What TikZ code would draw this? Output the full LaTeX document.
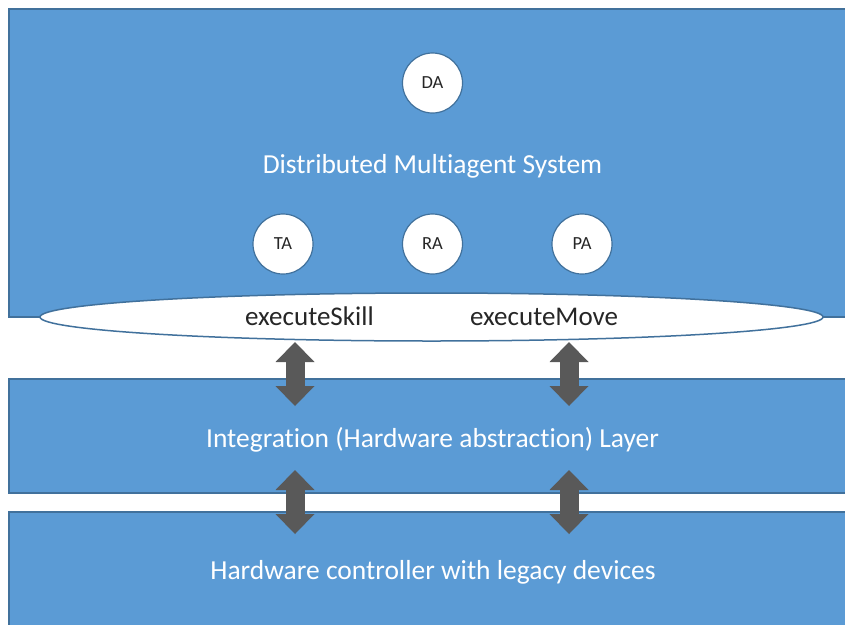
\documentclass[tikz,border=0pt]{standalone}
\usepackage{fontspec}
\setmainfont{Carlito}[Ligatures={NoCommon}]
\usetikzlibrary{arrows.meta}
\definecolor{layerblue}{HTML}{5B9BD5}
\definecolor{layeredge}{HTML}{41719C}
\definecolor{arrowgray}{HTML}{595959}
\definecolor{labeldark}{HTML}{262626}
\tikzset{
  layer/.style={fill=layerblue, draw=layeredge, line width=1.5pt},
  agent/.style={circle, fill=white, draw=layeredge, line width=1.2pt,
    minimum size=60pt, inner sep=0pt, text=labeldark,
    font=\fontsize{18.5pt}{22pt}\selectfont},
  layertext/.style={text=white, anchor=base, inner sep=0pt,
    font=\fontsize{27.5pt}{32pt}\selectfont},
  calltext/.style={text=labeldark, anchor=base west, inner sep=0pt,
    font=\fontsize{27pt}{32pt}\selectfont},
  link/.style={draw=arrowgray, line width=19pt,
    {Triangle[width=39pt,length=20pt,line width=0pt]}-{Triangle[width=39pt,length=20pt,line width=0pt]}}
}
\begin{document}
\begin{tikzpicture}[x=1pt,y=-1pt]
\useasboundingbox (0,0) rectangle (845,624);
\clip (0,0) rectangle (845,624);
% layers
\draw[layer] (9,9) rectangle (860,317);
\draw[layer] (9,379) rectangle (860,493);
\draw[layer] (9,512) rectangle (860,640);
% interface ellipse
\draw[fill=white, draw=layeredge, line width=1.5pt] (431.5,317) ellipse [x radius=391.5, y radius=24];
% agents
\node[agent] (da) at (432.5,83) {DA};
\node[agent] (ta) at (283,244) {TA};
\node[agent] (ra) at (432.5,244) {RA};
\node[agent] (pa) at (582,244) {PA};
% labels
\node[layertext] (mas) at (432.5,173) {Distributed Multiagent System};
\node[layertext] (hal) at (432.5,447) {Integration (Hardware abstraction) Layer};
\node[layertext] (hwc) at (433,579) {Hardware controller with legacy devices};
\node[calltext] (skill) at (245,325) {executeSkill};
\node[calltext] (move) at (470,325) {executeMove};
% arrow end points
\coordinate (s1) at (295,342);
\coordinate (s2) at (295,406);
\coordinate (m1) at (569,342);
\coordinate (m2) at (569,406);
\coordinate (s3) at (295,470);
\coordinate (s4) at (295,534);
\coordinate (m3) at (569,470);
\coordinate (m4) at (569,534);
\draw[link] (s1) -- (s2);
\draw[link] (m1) -- (m2);
\draw[link] (s3) -- (s4);
\draw[link] (m3) -- (m4);
\end{tikzpicture}
\end{document}
